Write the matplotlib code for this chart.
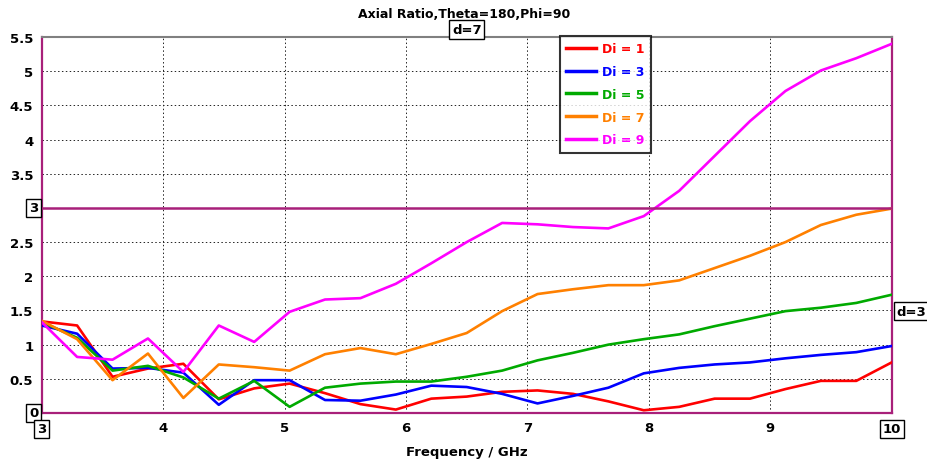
import numpy as np
import matplotlib
matplotlib.use("Agg")
import matplotlib.pyplot as plt

freq = [3 + 7 * i / 24 for i in range(25)]
di_labels = ["Di = 1", "Di = 3", "Di = 5", "Di = 7", "Di = 9"]
colors = ["#FF0000", "#0000FF", "#00AA00", "#FF8000", "#FF00FF"]

di1 = [1.34, 1.28, 0.53, 0.65, 0.72, 0.20, 0.36, 0.43, 0.29, 0.13, 0.05, 0.21, 0.24,
       0.31, 0.33, 0.28, 0.17, 0.04, 0.09, 0.21, 0.21, 0.35, 0.47, 0.47, 0.74]
di3 = [1.28, 1.16, 0.65, 0.66, 0.59, 0.12, 0.48, 0.48, 0.19, 0.18, 0.27, 0.40, 0.38,
       0.28, 0.14, 0.25, 0.37, 0.58, 0.66, 0.71, 0.74, 0.80, 0.85, 0.89, 0.98]
di5 = [1.33, 1.10, 0.62, 0.69, 0.52, 0.21, 0.47, 0.09, 0.37, 0.43, 0.46, 0.46, 0.53,
       0.62, 0.77, 0.88, 1.00, 1.08, 1.15, 1.27, 1.38, 1.49, 1.54, 1.61, 1.73]
di7 = [1.35, 1.08, 0.48, 0.87, 0.22, 0.71, 0.67, 0.62, 0.86, 0.95, 0.86, 1.01, 1.17,
       1.49, 1.74, 1.81, 1.87, 1.87, 1.94, 2.12, 2.30, 2.50, 2.75, 2.90, 2.99]
di9 = [1.33, 0.82, 0.78, 1.09, 0.60, 1.28, 1.04, 1.48, 1.66, 1.68, 1.89, 2.19, 2.50,
       2.78, 2.76, 2.72, 2.70, 2.88, 3.25, 3.76, 4.27, 4.71, 5.01, 5.19, 5.40]
series = [di1, di3, di5, di7, di9]

xticks = [4, 5, 6, 7, 8, 9]
yticks = [0.5, 1, 1.5, 2, 2.5, 3.5, 4, 4.5, 5, 5.5]
ytick_labels = ["0.5", "1", "1.5", "2", "2.5", "3.5", "4", "4.5", "5", "5.5"]

purple = "#A8207A"

fig = plt.figure(figsize=(9.28, 4.64), dpi=100)
ax = fig.add_axes([41.7 / 928, 50 / 464, 850 / 928, 376 / 464])

lines = []
for ys, c, lab in zip(series, colors, di_labels):
    ln, = ax.plot(freq, ys, color=c, lw=1.9, label=lab, zorder=3)
    lines.append(ln)

ax.set_xlim(3, 10)
ax.set_ylim(0, 5.5)
ax.set_xticks(xticks)
ax.set_xticklabels([str(t) for t in xticks], fontweight="bold", fontsize=9.5)
ax.set_yticks(yticks)
ax.set_yticklabels(ytick_labels, fontweight="bold", fontsize=9.5)
ax.tick_params(length=0, pad=6)
ax.grid(True, color="#222222", linestyle=(0, (1.5, 2.5)), lw=0.7)

for s in ["left", "right", "bottom"]:
    ax.spines[s].set_color(purple)
    ax.spines[s].set_linewidth(1.6)
ax.spines["top"].set_color("#808080")
ax.spines["top"].set_linewidth(1.5)

ax.axhline(3, color=purple, lw=1.8, zorder=4)

box = dict(boxstyle="square,pad=0.2", fc="white", ec="black", lw=1)
ax.text(-0.004, 3, "3", transform=ax.get_yaxis_transform(), ha="right", va="center",
        fontweight="bold", fontsize=9.5, bbox=box)
ax.text(-0.004, 0, "0", transform=ax.get_yaxis_transform(), ha="right", va="center",
        fontweight="bold", fontsize=9.5, bbox=box)
ax.text(3, -0.025, "3", transform=ax.get_xaxis_transform(), ha="center", va="top",
        fontweight="bold", fontsize=9.5, bbox=box)
ax.text(10, -0.025, "10", transform=ax.get_xaxis_transform(), ha="center", va="top",
        fontweight="bold", fontsize=9.5, bbox=box)
ax.text(6.5, 1.003, "d=7", transform=ax.get_xaxis_transform(), ha="center", va="bottom",
        fontweight="bold", fontsize=9.5, bbox=box)
ax.text(1.006, 1.49, "d=3", transform=ax.get_yaxis_transform(), ha="left", va="center",
        fontweight="bold", fontsize=9.5, bbox=box)

fig.text(0.5, 1 - 14 / 464, "Axial Ratio,Theta=180,Phi=90", ha="center", va="center",
         fontweight="bold", fontsize=9)
ax.set_xlabel("Frequency / GHz", fontweight="bold", fontsize=9.5, labelpad=8)

leg = fig.legend(handles=lines, loc="upper left",
                 bbox_to_anchor=(560 / 928, 1 - 37 / 464), borderaxespad=0,
                 frameon=True, fancybox=False, handlelength=2.4, handletextpad=0.5,
                 borderpad=0.5, labelspacing=0.78, prop={"weight": "bold", "size": 9})
leg.get_frame().set_edgecolor("black")
leg.get_frame().set_linewidth(1.5)
for txt, c in zip(leg.get_texts(), colors):
    txt.set_color(c)
for h in leg.legend_handles:
    h.set_linewidth(2.5)

fig.savefig("out.png", dpi=100)
